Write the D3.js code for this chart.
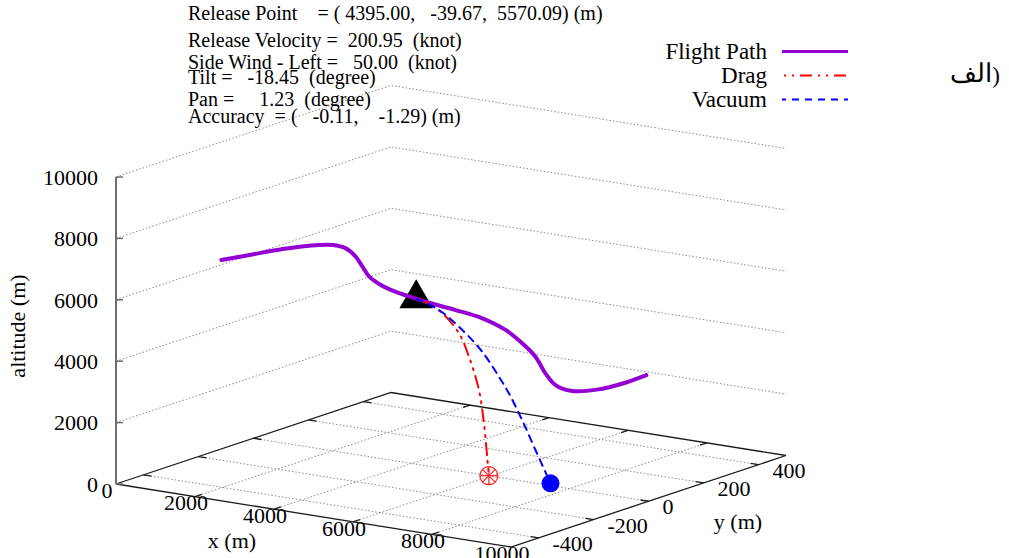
<!DOCTYPE html>
<html>
<head>
<meta charset="utf-8">
<script src="https://cdnjs.cloudflare.com/ajax/libs/d3/7.8.5/d3.min.js"></script>
<style>
    html, body { margin: 0; padding: 0; background: #fff; }
    svg { display: block; }
    text { font-family: 'Liberation Serif', 'Times New Roman', serif; fill: #000; }
</style>
</head>
<body>
<svg id="chart" width="1009" height="558"></svg>
<script>
// all points are [x, y, z] in metres
const flightPath = [
    [0, -117, 6155], [636, -106, 6415], [1386, -93, 6725], [1985, -82, 6924], [2510, -73, 7026],
    [2811, -68, 6964], [3035, -64, 6726], [3184, -61, 6422], [3336, -58, 6121], [3598, -54, 5892],
    [4010, -46, 5684], [4395, -39.67, 5570.09], [4631, -39, 5515], [5369, -36, 5384], [6023, -33, 5241],
    [6596, -31, 4974], [7005, -29, 4616], [7333, -28, 4244], [7578, -27, 3749], [7826, -26, 3417],
    [8232, -24, 3303], [8889, -22, 3482], [9545, -19, 3824], [10000, -8, 4130],
];
const dragPath = [
    [4395, -39.67, 5570.09], [4635, -33.5, 5447], [4956, -25.2, 5162], [5313, -16.0, 4557],
    [5528, -10.5, 3822], [5742, -5.0, 2765], [5849, -2.2, 1694], [5919, -0.4, 615], [5955, 0.5, 0],
];
const vacuumPath = [
    [4395, -39.67, 5570.09], [4906, -30.0, 5274], [5426, -20.2, 4700], [5872, -11.8, 4059],
    [6245, -4.7, 3301], [6468, -0.5, 2793], [6765, 5.1, 1968], [7064, 10.7, 1035], [7400, 17.1, 0],
];
const releasePoint = [4395, -39.67, 5570.09];
const dragImpact = [5955, 0.5, 0];
const vacuumImpact = [7400, 17.1, 0];

const xDomain = [0, 10000];
const yDomain = [-500, 500];
const zDomain = [0, 10000];
const xTicks = [0, 2000, 4000, 6000, 8000, 10000];
const yTicks = [-400, -200, 0, 200, 400];
const zTicks = [0, 2000, 4000, 6000, 8000, 10000];

const infoLines = [
    'Release Point    = ( 4395.00,   -39.67,  5570.09) (m)',
    'Release Velocity =  200.95  (knot)',
    'Side Wind - Left =   50.00  (knot)',
    'Tilt =   -18.45  (degree)',
    'Pan =     1.23  (degree)',
    'Accuracy  = (   -0.11,    -1.29) (m)',
];
const legendNames = ['Flight Path', 'Drag', 'Vacuum'];
const panelWord = 'الف';
const panelParen = ')';

// view: screen vectors of the three axes (whole range) and where (x0, y0, z0) lands
const origin = [116, 484];
const ex = [395, 63];
const ey = [275, -91.5];
const ez = [0, -307];

const xs = d3.scaleLinear().domain(xDomain).range([0, 1]);
const ys = d3.scaleLinear().domain(yDomain).range([0, 1]);
const zs = d3.scaleLinear().domain(zDomain).range([0, 1]);

function project(p) {
    const a = xs(p[0]), b = ys(p[1]), c = zs(p[2]);
    return [origin[0] + a * ex[0] + b * ey[0] + c * ez[0], origin[1] + a * ex[1] + b * ey[1] + c * ez[1]];
}

const svg = d3.select('#chart');
const line = d3.line();
const curve = d3.line().curve(d3.curveCatmullRom.alpha(0.5));

// grid
const grid = svg.append('g').attr('fill', 'none').attr('stroke', '#8c8c8c').attr('stroke-width', 1).attr('stroke-dasharray', '1.5,2');
xTicks.filter((t) => t > xDomain[0] && t < xDomain[1]).forEach((t) => {
    grid.append('path').attr('d', line([project([t, yDomain[0], 0]), project([t, yDomain[1], 0])]));
});
yTicks.forEach((t) => {
    grid.append('path').attr('d', line([project([xDomain[0], t, 0]), project([xDomain[1], t, 0])]));
});
zTicks.filter((t) => t > 0).forEach((t) => {
    grid.append('path').attr('d', line([
        project([xDomain[0], yDomain[0], t]),
        project([xDomain[0], yDomain[1], t]),
        project([xDomain[1], yDomain[1], t]),
    ]));
});

// base border
const corners = [
    [xDomain[0], yDomain[0], 0], [xDomain[1], yDomain[0], 0],
    [xDomain[1], yDomain[1], 0], [xDomain[0], yDomain[1], 0],
];
svg.append('path')
    .attr('d', line(corners.map(project)) + 'Z')
    .attr('fill', 'none').attr('stroke', '#1a1a1a').attr('stroke-width', 1.3);

// ticks on the base
const ticks = svg.append('g').attr('stroke', '#1a1a1a').attr('stroke-width', 1.3);
const yTickLen = 25, xTickLen = 200;
xTicks.filter((t) => t > xDomain[0] && t < xDomain[1]).forEach((t) => {
    ticks.append('path').attr('d', line([project([t, yDomain[0], 0]), project([t, yDomain[0] + yTickLen, 0])]));
    ticks.append('path').attr('d', line([project([t, yDomain[1], 0]), project([t, yDomain[1] - yTickLen, 0])]));
});
yTicks.forEach((t) => {
    ticks.append('path').attr('d', line([project([xDomain[1], t, 0]), project([xDomain[1] - xTickLen, t, 0])]));
    ticks.append('path').attr('d', line([project([xDomain[0], t, 0]), project([xDomain[0] + xTickLen, t, 0])]));
});

// z axis
const zTop = project([xDomain[0], yDomain[0], zDomain[1]]);
svg.append('path')
    .attr('d', line([origin, zTop]))
    .attr('stroke', '#6e6e6e').attr('stroke-width', 2);
zTicks.forEach((t) => {
    const p = project([xDomain[0], yDomain[0], t]);
    svg.append('path').attr('d', line([p, [p[0] + 7, p[1]]])).attr('stroke', '#6e6e6e').attr('stroke-width', 1.5);
});

// tick labels
const labels = svg.append('g').attr('font-size', '22px');
xTicks.forEach((t) => {
    const p = project([t, yDomain[0], 0]);
    labels.append('text').attr('x', p[0] - 9).attr('y', p[1] + 6).attr('dy', '0.35em')
        .attr('text-anchor', 'middle').text(t);
});
yTicks.forEach((t) => {
    const p = project([xDomain[1], t, 0]);
    labels.append('text').attr('x', p[0] + 14).attr('y', p[1] + 5.5).attr('dy', '0.35em')
        .attr('text-anchor', 'start').text(t);
});
zTicks.forEach((t) => {
    const p = project([xDomain[0], yDomain[0], t]);
    labels.append('text').attr('x', 98).attr('y', p[1]).attr('dy', '0.35em')
        .attr('text-anchor', 'end').text(t);
});

// axis titles
labels.append('text').attr('x', 232).attr('y', 540).attr('dy', '0.35em').attr('text-anchor', 'middle').text('x (m)');
labels.append('text').attr('x', 738).attr('y', 521).attr('dy', '0.35em').attr('text-anchor', 'middle').text('y (m)');
labels.append('text').attr('transform', 'translate(25,326) rotate(-90)').attr('text-anchor', 'middle').text('altitude (m)');

// release point marker (drawn under the flight path)
const rp = project(releasePoint);
svg.append('path')
    .attr('d', d3.symbol(d3.symbolTriangle).size(490)())
    .attr('transform', `translate(${rp[0]},${rp[1]})`)
    .attr('fill', '#000');

// series
const series = [
    { name: legendNames[0], pts: flightPath, color: '#9400d3', width: 4, dash: null },
    { name: legendNames[1], pts: dragPath, color: '#ff0000', width: 2, dash: '12,6,2,6,2,6' },
    { name: legendNames[2], pts: vacuumPath, color: '#0000ff', width: 2, dash: '7,6' },
];
series.forEach((s) => {
    svg.append('path')
        .attr('d', curve(s.pts.map(project)))
        .attr('fill', 'none')
        .attr('stroke', s.color)
        .attr('stroke-width', s.width)
        .attr('stroke-linecap', 'round')
        .attr('stroke-dasharray', s.dash);
});

// impact markers
const di = project(dragImpact);
const star = svg.append('g').attr('transform', `translate(${di[0]},${di[1]})`)
    .attr('stroke', '#ff2020').attr('stroke-width', 1.2).attr('fill', 'none');
star.append('circle').attr('r', 9);
[0, 45, 90, 135].forEach((a) => {
    const r = 9, c = Math.cos((a * Math.PI) / 180) * r, s = Math.sin((a * Math.PI) / 180) * r;
    star.append('path').attr('d', line([[-c, -s], [c, s]]));
});
const vi = project(vacuumImpact);
svg.append('circle').attr('cx', vi[0]).attr('cy', vi[1]).attr('r', 9).attr('fill', '#0000ff');

// legend
const legend = svg.append('g').attr('font-size', '23px');
series.forEach((s, i) => {
    const y = 51.5 + i * 24;
    legend.append('text').attr('x', 767).attr('y', y).attr('dy', '0.33em').attr('text-anchor', 'end').text(s.name);
    legend.append('path')
        .attr('d', line([[782, y], [848, y]]))
        .attr('stroke', s.color)
        .attr('stroke-width', s.width === 4 ? 3 : 2)
        .attr('stroke-dasharray', s.dash)
        .attr('stroke-dashoffset', s.dash ? 16 : null);
});

// release info text
const infoY = [20, 47, 69, 84, 106, 123];
svg.append('g').attr('font-size', '20px')
    .selectAll('text')
    .data(infoLines)
    .enter()
    .append('text')
    .attr('x', 188)
    .attr('y', (d, i) => infoY[i])
    .attr('xml:space', 'preserve')
    .style('white-space', 'pre')
    .text((d) => d);

// panel label: word and closing bracket set apart so the bracket stays on the right
const panel = svg.append('g').style('font-family', "'DejaVu Sans', sans-serif");
panel.append('text').attr('x', 971).attr('y', 82).attr('font-size', '26px').attr('text-anchor', 'middle').text(panelWord);
panel.append('text').attr('x', 996).attr('y', 83).attr('font-size', '23px').attr('text-anchor', 'middle').text(panelParen);
</script>
</body>
</html>
